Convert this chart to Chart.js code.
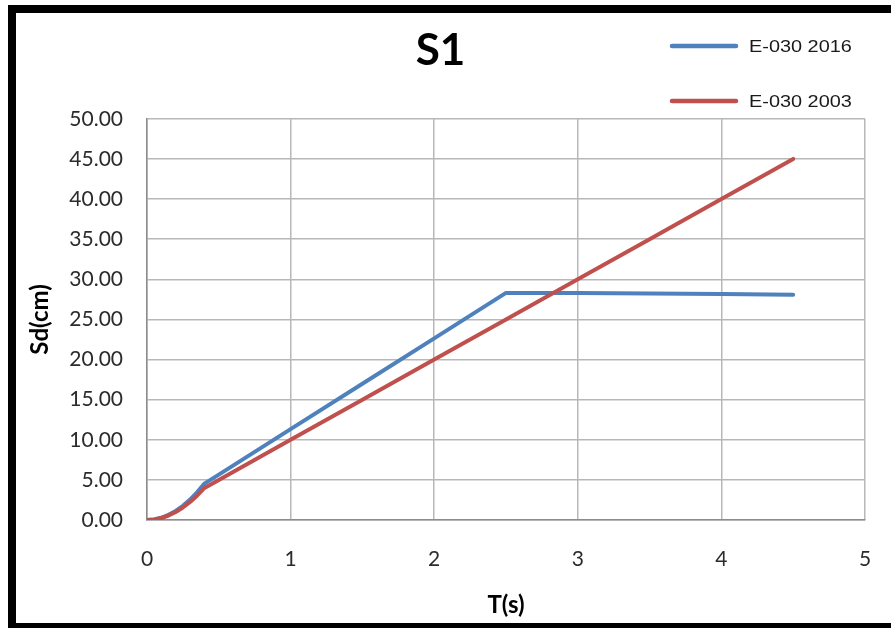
<!DOCTYPE html>
<html>
<head>
<meta charset="utf-8">
<script src="https://cdn.jsdelivr.net/npm/chart.js@4/dist/chart.umd.min.js"></script>
<style>
  html, body { margin: 0; padding: 0; background: #fff; overflow: hidden; }
  #wrap { position: relative; width: 891px; height: 628px; }
  #frame {
    position: absolute; left: 8px; top: 5px; width: 900px; height: 623px;
    box-sizing: border-box; border-left: 8px solid #000; border-top: 8px solid #000;
    border-bottom: 5px solid #000; pointer-events: none;
  }
</style>
</head>
<body>
<div id="wrap">
  <canvas id="c" width="891" height="628"></canvas>
  <div id="frame"></div>
</div>
<script>
// Period T (s)
const periods = [0, 0.05, 0.1, 0.15, 0.2, 0.25, 0.3, 0.35, 0.4, 0.5, 1.0, 1.5, 2.0, 2.5, 3.0, 3.5, 4.0, 4.5];
// Spectral displacement Sd (cm), E-030 2016
const sd2016 = [0, 0.07, 0.28, 0.64, 1.13, 1.77, 2.55, 3.47, 4.53, 5.66, 11.32, 16.98, 22.64, 28.30, 28.28, 28.22, 28.15, 28.08];
// Spectral displacement Sd (cm), E-030 2003
const sd2003 = [0, 0.06, 0.25, 0.56, 1.00, 1.56, 2.25, 3.06, 4.00, 5.00, 10.0, 15.0, 20.0, 25.0, 30.0, 35.0, 40.0, 45.0];

const seriesNames = ['E-030 2016', 'E-030 2003'];
const seriesColors = ['#4F81BD', '#C0504D'];
const chartTitle = 'S1';
const xTitle = 'T(s)';
const yTitle = 'Sd(cm)';

const toPoints = (ys) => periods.map((t, i) => ({ x: t, y: ys[i] }));

// Legend stacked at the top right, lines with labels
const sideLegend = {
  id: 'sideLegend',
  afterDraw(chart) {
    const ctx = chart.ctx;
    const rows = [46, 101];
    chart.data.datasets.forEach((ds, i) => {
      const y = rows[i];
      ctx.save();
      ctx.strokeStyle = ds.borderColor;
      ctx.lineWidth = 4.5;
      ctx.lineCap = 'round';
      ctx.beginPath();
      ctx.moveTo(672, y);
      ctx.lineTo(736, y);
      ctx.stroke();
      ctx.fillStyle = '#1a1a1a';
      ctx.font = '17px "Liberation Sans", Arial, sans-serif';
      ctx.textBaseline = 'middle';
      ctx.translate(749, y + 1);
      ctx.scale(1.17, 1);
      ctx.fillText(ds.label, 0, 0);
      ctx.restore();
    });
  }
};

new Chart(document.getElementById('c'), {
  type: 'line',
  data: {
    datasets: [
      { label: seriesNames[0], data: toPoints(sd2016), borderColor: seriesColors[0], backgroundColor: seriesColors[0], order: 1 },
      { label: seriesNames[1], data: toPoints(sd2003), borderColor: seriesColors[1], backgroundColor: seriesColors[1], order: 0 }
    ]
  },
  options: {
    responsive: false,
    animation: false,
    devicePixelRatio: 1,
    layout: { padding: { left: 16, right: 26, top: 0, bottom: 5 } },
    elements: {
      point: { radius: 0 },
      line: { borderWidth: 4, tension: 0, borderCapStyle: 'round', borderJoinStyle: 'round' }
    },
    plugins: {
      legend: { display: false },
      tooltip: { enabled: false },
      title: {
        display: true,
        text: chartTitle,
        color: '#000',
        font: { family: 'Lato', size: 44, weight: 'bold' },
        padding: { top: 24, bottom: 42 }
      }
    },
    scales: {
      x: {
        type: 'linear',
        min: 0, max: 5,
        ticks: { stepSize: 1, color: '#2b2b2b', padding: 0, font: { family: 'Lato', size: 21 } },
        grid: { color: '#b8b8b8', lineWidth: 1.5, drawTicks: true, tickLength: 27, tickColor: 'rgba(0,0,0,0)' },
        border: { color: '#8c8c8c', width: 1.5 },
        title: { display: true, text: xTitle, color: '#000', font: { family: 'Lato', size: 24, weight: 'bold' }, padding: { top: 0, bottom: 3 } },
        afterFit(scale) { scale.height = 103; }
      },
      y: {
        min: 0, max: 50,
        ticks: { stepSize: 5, color: '#2b2b2b', padding: 24, font: { family: 'Lato', size: 21 },
                 callback: (v) => Number(v).toFixed(2) },
        grid: { color: '#b8b8b8', lineWidth: 1.5, drawTicks: false },
        border: { color: '#8c8c8c', width: 1.5 },
        title: { display: true, text: yTitle, color: '#000', font: { family: 'Lato', size: 24, weight: 'bold' }, padding: { top: 10, bottom: 0 } },
        afterFit(scale) { scale.width = 131; }
      }
    }
  },
  plugins: [sideLegend]
});
</script>
</body>
</html>
